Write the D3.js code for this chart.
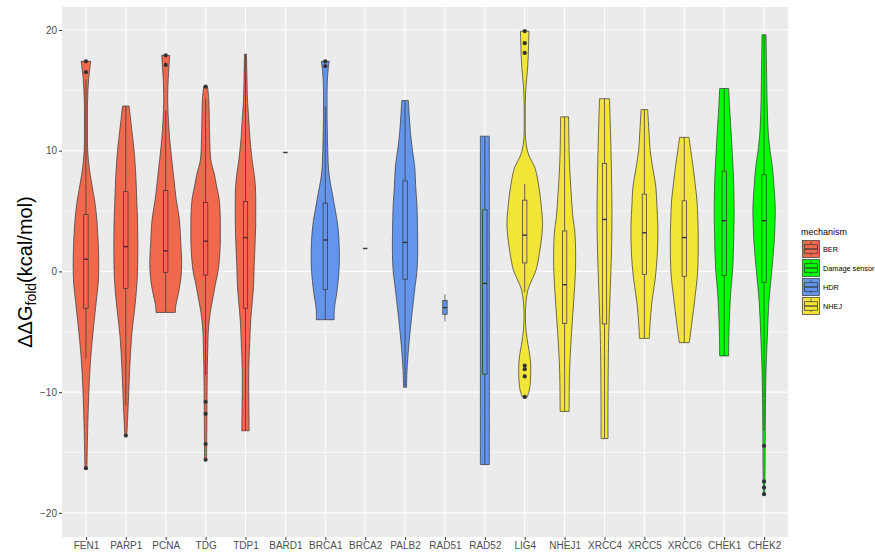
<!DOCTYPE html>
<html>
<head>
    <meta charset="utf-8">
    <script src="https://d3js.org/d3.v7.min.js"></script>
    <style>
        body { margin: 0; background: #fff; }
        text { font-family: 'Liberation Sans', Arial, sans-serif; }
    </style>
</head>
<body>
    <div id="chart"></div>
    <script>
        // mechanism legend
        var mechanisms = ["BER", "Damage sensor", "HDR", "NHEJ"];
        var mechColours = ["#F0694D", "#00FF00", "#6495ED", "#F2E537"];

        var genes = ["FEN1", "PARP1", "PCNA", "TDG", "TDP1", "BARD1", "BRCA1", "BRCA2", "PALB2",
            "RAD51", "RAD52", "LIG4", "NHEJ1", "XRCC4", "XRCC5", "XRCC6", "CHEK1", "CHEK2"];
        var geneMechanism = ["BER", "BER", "BER", "BER", "BER", "HDR", "HDR", "HDR", "HDR",
            "HDR", "HDR", "NHEJ", "NHEJ", "NHEJ", "NHEJ", "NHEJ", "Damage sensor", "Damage sensor"];

        var yTicks = [-20, -10, 0, 10, 20];
        var yMinor = [-15, -5, 5, 15];

        // [lower whisker, q1, median, q3, upper whisker]
        var boxStats = [
            [-7.2, -3.05, 1.0, 4.7, 15.9],
            [-11.1, -1.4, 2.05, 6.6, 13.7],
            [-3.4, -0.1, 1.7, 6.7, 13.3],
            [-8.6, -0.3, 2.5, 5.7, 14.3],
            [-13.2, -3.05, 2.8, 5.8, 18.0],
            [9.85, 9.85, 9.85, 9.85, 9.85],
            [-4.0, -1.5, 2.6, 5.65, 13.65],
            [1.9, 1.9, 1.9, 1.9, 1.9],
            [-9.6, -0.65, 2.4, 7.5, 14.15],
            [-4.15, -3.55, -3.0, -2.4, -1.9],
            [-16.0, -8.5, -1.0, 5.1, 11.2],
            [-1.75, 0.7, 3.0, 5.9, 7.25],
            [-11.6, -4.3, -1.1, 3.35, 12.8],
            [-13.85, -4.35, 4.3, 8.95, 14.3],
            [-5.55, -0.25, 3.2, 6.4, 13.4],
            [-5.9, -0.4, 2.8, 5.85, 11.1],
            [-7.0, -0.35, 4.2, 8.3, 15.15],
            [-13.2, -0.9, 4.2, 8.0, 19.6]
        ];

        var outliers = [
            [17.4, 16.5, -16.3],
            [-13.6],
            [17.9, 17.1],
            [15.3, -10.8, -11.8, -14.3, -15.6],
            [], [], [17.4, 17.0], [], [], [], [],
            [19.9, 18.9, 18.1, -7.8, -8.1, -8.7, -10.4],
            [], [], [], [], [],
            [-14.45, -17.4, -17.9, -18.45]
        ];

        // violin profiles: [ddG, relative density]
        var violins = [
            [[-16.4, 1], [-14, 1.5], [-11, 2.5], [-8.5, 3.8], [-6.75, 5.2], [-4.5, 7.8], [-2.6, 10.2], [-1, 12.3], [0.4, 12.8], [2, 12.5], [3.2, 11.8], [4.5, 10.7], [5.9, 8.7], [6.7, 7], [8.6, 3.3], [10, 1.8], [12, 1.5], [14.2, 1.7], [15.9, 2.7], [17.4, 4.8]],
            [[-13.6, 1], [-10.9, 2.5], [-8.2, 3.8], [-5.4, 5.8], [-2.6, 9.5], [-0.5, 11.5], [1.5, 12], [4, 11.8], [5.9, 11], [8, 10], [10, 8.3], [11.5, 6.3], [13.7, 3.3]],
            [[-3.4, 9.7], [-2.8, 10.2], [-1.8, 12.8], [-0.5, 15.3], [0.8, 16], [2.5, 15], [4.3, 13.7], [6, 10.5], [7.6, 8.3], [9.3, 6], [10.9, 4], [12.5, 2.7], [14.2, 2], [15.9, 2.5], [17, 3.3], [17.9, 4]],
            [[-15.6, 1], [-12, 1.3], [-8.2, 1.7], [-6, 2.3], [-4.85, 2.8], [-3.5, 4.5], [-2.1, 7.5], [-1, 10], [0, 12.5], [1.8, 14.5], [3.5, 14.8], [4.5, 14.7], [5.9, 13.7], [7.3, 10.5], [8.1, 8.7], [9.2, 5.3], [11.5, 4], [13.5, 3.5], [14.2, 3.2], [15.3, 2]],
            [[-13.2, 3.7], [-11, 3.4], [-8.2, 3.3], [-6, 4.2], [-4, 5.3], [-1.3, 8], [0.4, 8.7], [2, 9.5], [3.7, 10.2], [5.5, 10.3], [7, 10], [8.2, 8.5], [9.2, 6.7], [11, 4.5], [13, 3], [14.2, 2], [16, 1.5], [18, 1]],
            [],
            [[-4, 9], [-3.2, 9], [-1.5, 12], [0.4, 14], [2, 14], [3.7, 12.7], [5.9, 8.3], [8.1, 3.7], [10, 2.5], [13.4, 1.8], [15.6, 2], [16.8, 3], [17.4, 4]],
            [],
            [[-9.6, 1.5], [-8.2, 2], [-6.2, 3.7], [-4, 6.3], [-1.5, 9.7], [0.1, 12], [1.8, 12.7], [3.5, 12.5], [5.4, 12], [7, 10.7], [8.7, 9.7], [10, 7.5], [11.4, 5.5], [12.8, 4.3], [14.15, 3.3]],
            [],
            [[-16, 4.5], [-2.4, 4.5], [11.2, 4.5]],
            [[-10.4, 2.5], [-9.8, 4.7], [-8.6, 6], [-7.5, 5.8], [-6.75, 4.7], [-5.4, 2], [-4, 0.7], [-2.6, 1.2], [-1.5, 3.3], [-0.7, 7.2], [0.1, 11.3], [1.5, 14.7], [3.7, 17.8], [5.5, 16.5], [7.6, 13], [8.7, 9.7], [9.5, 4.7], [10.6, 1.3], [12.8, 0.5], [15, 1], [17, 3], [18.5, 3.8], [19.9, 4.3]],
            [[-11.6, 4.5], [-8.2, 5], [-5.4, 6.7], [-2.6, 9], [0.4, 11], [3.2, 10.3], [4.5, 8.3], [5.9, 7], [8.7, 5], [10, 4.5], [12.8, 4]],
            [[-13.85, 3.5], [-10.9, 3.5], [-5.4, 4.2], [-2, 5.5], [1, 6.8], [4.5, 7.5], [10, 6.5], [14.3, 5]],
            [[-5.55, 5], [-4.85, 5.3], [-2.6, 7.5], [-0.5, 11], [1.5, 13], [3.7, 13.5], [5.5, 12.5], [7, 11.5], [8.5, 8.5], [10, 5.8], [11.7, 4.5], [13.4, 3.3]],
            [[-5.9, 5], [-4.85, 6.7], [-2.1, 10.8], [-0.15, 13.3], [2.6, 14], [4.5, 13.5], [5.9, 12.7], [7.3, 10.8], [8.7, 8.8], [10, 6.5], [11.1, 4.7]],
            [[-7, 4.5], [-5.4, 4.7], [-2.1, 6.3], [0.4, 8.7], [2.5, 9.5], [4.5, 10], [6.5, 9.8], [8.1, 9.2], [10, 8], [11.5, 7], [13.5, 5.5], [15.15, 4.5]],
            [[-18.45, 0.7], [-16.4, 1], [-12.3, 1.3], [-10, 1.6], [-8.2, 2], [-5.4, 3.3], [-2.6, 4.8], [-0.15, 7.5], [1.2, 9], [2.6, 10.3], [4, 11], [5.35, 11.2], [7, 10], [8.7, 8.3], [10, 6], [11.5, 4.2], [14.2, 3], [17, 2.5], [19.6, 2]]
        ];

        var width = 875, height = 552;
        var panel = { left: 62, right: 788, top: 7, bottom: 537 };
        var ink = "#333333";

        var svg = d3.select("#chart").append("svg")
            .attr("width", width)
            .attr("height", height);

        var x = d3.scalePoint()
            .domain(genes)
            .range([panel.left, panel.right])
            .padding(0.6);

        var y = d3.scaleLinear()
            .domain([-22, 21.9])
            .range([panel.bottom, panel.top]);

        var colour = d3.scaleOrdinal()
            .domain(mechanisms)
            .range(mechColours);

        // violin half width, max density maps to 0.45 of a band
        var w = d3.scaleLinear()
            .domain([0, 18])
            .range([0, 0.45 * x.step()]);

        var boxHalf = 0.055 * x.step();

        // panel background and grid
        svg.append("rect")
            .attr("x", panel.left)
            .attr("y", panel.top)
            .attr("width", panel.right - panel.left)
            .attr("height", panel.bottom - panel.top)
            .attr("fill", "#EBEBEB");

        svg.selectAll(".minor")
            .data(yMinor)
            .enter().append("line")
            .attr("x1", panel.left).attr("x2", panel.right)
            .attr("y1", d => y(d)).attr("y2", d => y(d))
            .attr("stroke", "#fff")
            .attr("stroke-width", 0.6);

        svg.selectAll(".hgrid")
            .data(yTicks)
            .enter().append("line")
            .attr("x1", panel.left).attr("x2", panel.right)
            .attr("y1", d => y(d)).attr("y2", d => y(d))
            .attr("stroke", "#fff")
            .attr("stroke-width", 1.1);

        svg.selectAll(".vgrid")
            .data(genes)
            .enter().append("line")
            .attr("x1", d => x(d)).attr("x2", d => x(d))
            .attr("y1", panel.top).attr("y2", panel.bottom)
            .attr("stroke", "#fff")
            .attr("stroke-width", 1.1);

        // violins
        var area = d3.area()
            .y(d => y(d[0]))
            .curve(d3.curveCatmullRom.alpha(0.5));

        genes.forEach(function (g, i) {
            var cx = x(g);
            var fill = colour(geneMechanism[i]);
            var prof = violins[i];
            if (prof.length) {
                svg.append("path")
                    .datum(prof)
                    .attr("d", area.x0(d => cx - w(d[1])).x1(d => cx + w(d[1])))
                    .attr("fill", fill)
                    .attr("stroke", ink)
                    .attr("stroke-width", 0.7);
            }

            var s = boxStats[i];
            var gBox = svg.append("g");
            gBox.append("line")
                .attr("x1", cx).attr("x2", cx)
                .attr("y1", y(s[0])).attr("y2", y(s[1]))
                .attr("stroke", ink).attr("stroke-width", 0.7);
            gBox.append("line")
                .attr("x1", cx).attr("x2", cx)
                .attr("y1", y(s[3])).attr("y2", y(s[4]))
                .attr("stroke", ink).attr("stroke-width", 0.7);
            gBox.append("rect")
                .attr("x", cx - boxHalf)
                .attr("width", 2 * boxHalf)
                .attr("y", y(s[3]))
                .attr("height", y(s[1]) - y(s[3]))
                .attr("fill", fill)
                .attr("stroke", ink)
                .attr("stroke-width", 0.7);
            gBox.append("line")
                .attr("x1", cx - boxHalf).attr("x2", cx + boxHalf)
                .attr("y1", y(s[2])).attr("y2", y(s[2]))
                .attr("stroke", ink).attr("stroke-width", 1.4);

            gBox.selectAll("circle")
                .data(outliers[i])
                .enter().append("circle")
                .attr("cx", cx)
                .attr("cy", d => y(d))
                .attr("r", 2.1)
                .attr("fill", ink);
        });

        // axes
        var yAxis = svg.append("g")
            .attr("transform", "translate(" + panel.left + ",0)")
            .call(d3.axisLeft(y).tickValues(yTicks).tickSize(3).tickPadding(2));
        yAxis.select(".domain").remove();
        yAxis.selectAll("line").attr("stroke", ink);
        yAxis.selectAll("text")
            .attr("fill", "#4D4D4D")
            .style("font-size", "10px")
            .text(d => d < 0 ? "\u2212" + Math.abs(d) : d);

        var xAxis = svg.append("g")
            .attr("transform", "translate(0," + panel.bottom + ")")
            .call(d3.axisBottom(x).tickSize(3).tickPadding(2));
        xAxis.select(".domain").remove();
        xAxis.selectAll("line").attr("stroke", ink);
        xAxis.selectAll("text")
            .attr("fill", "#4D4D4D")
            .style("font-size", "10px");

        // y axis title
        var yTitle = svg.append("text")
            .attr("transform", "translate(32," + ((panel.top + panel.bottom) / 2) + ") rotate(-90)")
            .attr("text-anchor", "middle")
            .style("font-size", "20px")
            .attr("fill", "#000");
        yTitle.append("tspan").text("\u0394\u0394G");
        yTitle.append("tspan").attr("dy", 4).style("font-size", "14px").text("fold");
        yTitle.append("tspan").attr("dy", -4).text("(kcal/mol)");

        // legend
        var legend = svg.append("g").attr("transform", "translate(802,240)");
        legend.append("text")
            .attr("x", -1).attr("y", -5)
            .style("font-size", "9px")
            .attr("fill", "#000")
            .text("mechanism");

        var keySize = 17, keyStep = 19;
        var keys = legend.selectAll(".key")
            .data(mechanisms)
            .enter().append("g")
            .attr("transform", (d, i) => "translate(0," + i * keyStep + ")");

        keys.append("rect")
            .attr("x", 0.5).attr("y", 0.5)
            .attr("width", keySize).attr("height", keySize)
            .attr("fill", d => colour(d))
            .attr("stroke", ink).attr("stroke-width", 0.7);
        keys.append("line")
            .attr("x1", keySize / 2 + 0.5).attr("x2", keySize / 2 + 0.5)
            .attr("y1", keySize * 0.1).attr("y2", keySize * 0.9)
            .attr("stroke", ink).attr("stroke-width", 0.7);
        keys.append("rect")
            .attr("x", keySize * 0.125 + 0.5).attr("y", keySize * 0.25 + 0.5)
            .attr("width", keySize * 0.75).attr("height", keySize * 0.5)
            .attr("fill", d => colour(d))
            .attr("stroke", ink).attr("stroke-width", 0.7);
        keys.append("line")
            .attr("x1", keySize * 0.125 + 0.5).attr("x2", keySize * 0.875 + 0.5)
            .attr("y1", keySize / 2 + 0.5).attr("y2", keySize / 2 + 0.5)
            .attr("stroke", ink).attr("stroke-width", 1.2);
        keys.append("text")
            .attr("x", keySize + 4)
            .attr("y", keySize / 2 + 3)
            .style("font-size", "7.3px")
            .attr("fill", "#000")
            .text(d => d);
    </script>
</body>
</html>
